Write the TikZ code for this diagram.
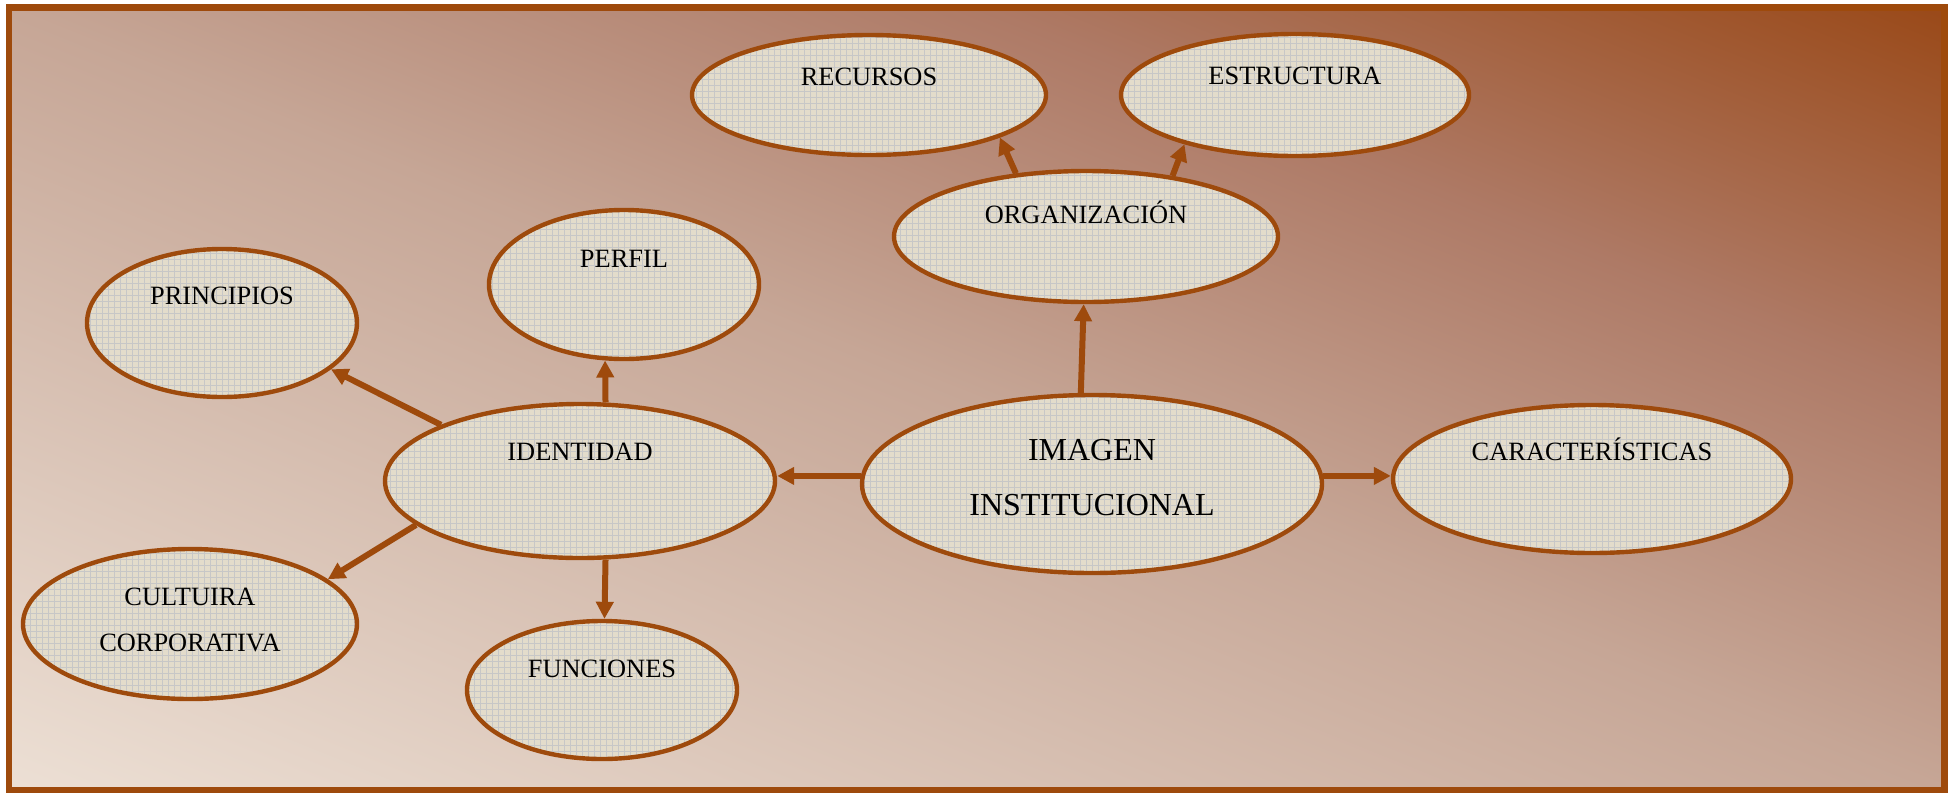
\documentclass[tikz,border=0pt]{standalone}
\usepackage{fontspec}
\setmainfont{Liberation Serif}
\usetikzlibrary{arrows.meta,shapes.geometric,patterns}

\definecolor{rust}{RGB}{158,74,12}
\definecolor{linen}{RGB}{227,220,203}
\definecolor{bglow}{RGB}{236,223,212}
\definecolor{bgmid}{RGB}{198,166,150}
\definecolor{bgupr}{RGB}{174,122,102}
\definecolor{bghigh}{RGB}{154,74,26}
\pgfdeclarehorizontalshading{backdrop}{100bp}{color(0bp)=(bglow); color(14.6bp)=(bglow);
  color(50bp)=(bgmid); color(68bp)=(bgupr); color(85.4bp)=(bghigh); color(100bp)=(bghigh)}

\begin{document}
\begin{tikzpicture}[x=0.5pt,y=-0.5pt,>={Triangle[length=8.5pt,width=8.5pt]},
  main node/.style={ellipse,draw=rust,line width=2.2pt,preaction={fill=linen},inner sep=0pt,
    pattern=grid,pattern color=black!22},
  txt/.style={font=\fontsize{13.2}{23}\selectfont,align=center,inner sep=0pt}]
  \useasboundingbox (0,0) rectangle (1953,793);
  % diagonal background: shade a square, then stretch it
  \begin{scope}[transform canvas={xscale=2.4858}]
    \shade[shading=backdrop,shading angle=45] (4.827,11) rectangle (780.83,787);
  \end{scope}
  \draw[rust,line width=3.2pt] (9,7.5) rectangle (1944.5,790);

   \node[main node,minimum width=230pt,minimum height=89pt,
     label={[txt,font=\fontsize{16}{27.5}\selectfont,yshift=3pt]center:IMAGEN\\INSTITUCIONAL}] (img) at (1092,484) {};
   \node[main node,minimum width=195pt,minimum height=77pt,
     label={[txt,yshift=14.5pt]center:IDENTIDAD}] (ident) at (580,481) {};
   \node[main node,minimum width=199pt,minimum height=74pt,
     label={[txt,yshift=15pt]center:CARACTERÍSTICAS}] (car) at (1592,479) {};
   \node[main node,minimum width=192pt,minimum height=65.5pt,
     label={[txt,yshift=12pt]center:ORGANIZACIÓN}] (org) at (1086,236.5) {};
   \node[main node,minimum width=177pt,minimum height=60pt,
     label={[txt,yshift=9pt]center:RECURSOS}] (rec) at (869,95) {};
   \node[main node,minimum width=174pt,minimum height=61pt,
     label={[txt,yshift=9.5pt]center:ESTRUCTURA}] (est) at (1295,95) {};
   \node[main node,minimum width=135pt,minimum height=74.5pt,
     label={[txt,yshift=13pt]center:PERFIL}] (perf) at (624,284.5) {};
   \node[main node,minimum width=135pt,minimum height=74pt,
     label={[txt,yshift=13.5pt]center:PRINCIPIOS}] (princ) at (222,323) {};
   \node[main node,minimum width=167pt,minimum height=75pt,
     label={[txt,yshift=2pt]center:CULTUIRA\\CORPORATIVA}] (cult) at (190,624) {};
   \node[main node,minimum width=135pt,minimum height=69pt,
     label={[txt,yshift=10.5pt]center:FUNCIONES}] (func) at (602,690) {};

    \path[->,rust,line width=3pt]
    (img.178) edge (img.178 -| ident.east)
    (img.2) edge (img.2 -| car.west)
    (img.97) edge (org.268)
    (org.138) edge (rec.342)
    (org.35) edge (est.204)
    (ident.72) edge (perf.256)
    (ident.158) edge (princ.337)
    (ident.195) edge (cult.18)
    (ident.288) edge (func.88);
\end{tikzpicture}
\end{document}
